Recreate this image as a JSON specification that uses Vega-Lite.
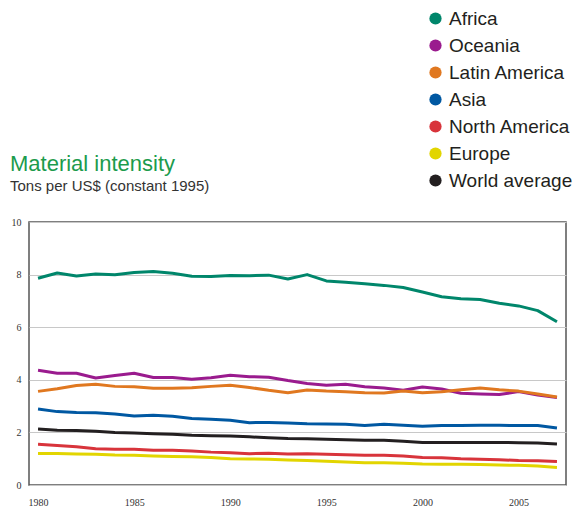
{
  "$schema": "https://vega.github.io/schema/vega-lite/v6.json",
  "width": 537,
  "height": 263,
  "autosize": {"type": "none"},
  "padding": {"left": 29, "top": 222, "right": 9, "bottom": 23},
  "background": "white",
  "title": {
    "text": "Material intensity",
    "subtitle": "Tons per US$ (constant 1995)",
    "anchor": "start",
    "frame": "group",
    "dx": -19,
    "dy": 216,
    "offset": 30,
    "font": "Liberation Sans",
    "fontSize": 22,
    "fontWeight": "normal",
    "color": "#1c9b4c",
    "subtitleFont": "Liberation Sans",
    "subtitleFontSize": 15,
    "subtitleColor": "#333333",
    "subtitlePadding": 3
  },
  "config": {
    "view": {"stroke": "#555555", "strokeWidth": 1.5},
    "axis": {"labelFont": "Liberation Sans Narrow", "labelFontSize": 10, "labelColor": "#333333", "ticks": false, "domain": false}
  },
  "data": {
    "values": [
      {"year":1980,"region":"Africa","value":7.86},{"year":1981,"region":"Africa","value":8.06},{"year":1982,"region":"Africa","value":7.95},{"year":1983,"region":"Africa","value":8.02},{"year":1984,"region":"Africa","value":7.99},{"year":1985,"region":"Africa","value":8.08},{"year":1986,"region":"Africa","value":8.12},{"year":1987,"region":"Africa","value":8.05},{"year":1988,"region":"Africa","value":7.94},{"year":1989,"region":"Africa","value":7.93},{"year":1990,"region":"Africa","value":7.97},{"year":1991,"region":"Africa","value":7.96},{"year":1992,"region":"Africa","value":7.98},{"year":1993,"region":"Africa","value":7.83},{"year":1994,"region":"Africa","value":8.0},{"year":1995,"region":"Africa","value":7.76},{"year":1996,"region":"Africa","value":7.71},{"year":1997,"region":"Africa","value":7.65},{"year":1998,"region":"Africa","value":7.59},{"year":1999,"region":"Africa","value":7.51},{"year":2000,"region":"Africa","value":7.34},{"year":2001,"region":"Africa","value":7.16},{"year":2002,"region":"Africa","value":7.08},{"year":2003,"region":"Africa","value":7.05},{"year":2004,"region":"Africa","value":6.91},{"year":2005,"region":"Africa","value":6.81},{"year":2006,"region":"Africa","value":6.63},{"year":2007,"region":"Africa","value":6.21},
      {"year":1980,"region":"Oceania","value":4.36},{"year":1981,"region":"Oceania","value":4.25},{"year":1982,"region":"Oceania","value":4.25},{"year":1983,"region":"Oceania","value":4.07},{"year":1984,"region":"Oceania","value":4.16},{"year":1985,"region":"Oceania","value":4.25},{"year":1986,"region":"Oceania","value":4.09},{"year":1987,"region":"Oceania","value":4.09},{"year":1988,"region":"Oceania","value":4.02},{"year":1989,"region":"Oceania","value":4.08},{"year":1990,"region":"Oceania","value":4.17},{"year":1991,"region":"Oceania","value":4.12},{"year":1992,"region":"Oceania","value":4.1},{"year":1993,"region":"Oceania","value":3.97},{"year":1994,"region":"Oceania","value":3.86},{"year":1995,"region":"Oceania","value":3.79},{"year":1996,"region":"Oceania","value":3.83},{"year":1997,"region":"Oceania","value":3.74},{"year":1998,"region":"Oceania","value":3.69},{"year":1999,"region":"Oceania","value":3.6},{"year":2000,"region":"Oceania","value":3.73},{"year":2001,"region":"Oceania","value":3.65},{"year":2002,"region":"Oceania","value":3.49},{"year":2003,"region":"Oceania","value":3.46},{"year":2004,"region":"Oceania","value":3.44},{"year":2005,"region":"Oceania","value":3.55},{"year":2006,"region":"Oceania","value":3.42},{"year":2007,"region":"Oceania","value":3.33},
      {"year":1980,"region":"Latin America","value":3.56},{"year":1981,"region":"Latin America","value":3.66},{"year":1982,"region":"Latin America","value":3.78},{"year":1983,"region":"Latin America","value":3.83},{"year":1984,"region":"Latin America","value":3.75},{"year":1985,"region":"Latin America","value":3.74},{"year":1986,"region":"Latin America","value":3.68},{"year":1987,"region":"Latin America","value":3.68},{"year":1988,"region":"Latin America","value":3.7},{"year":1989,"region":"Latin America","value":3.75},{"year":1990,"region":"Latin America","value":3.79},{"year":1991,"region":"Latin America","value":3.71},{"year":1992,"region":"Latin America","value":3.6},{"year":1993,"region":"Latin America","value":3.51},{"year":1994,"region":"Latin America","value":3.61},{"year":1995,"region":"Latin America","value":3.57},{"year":1996,"region":"Latin America","value":3.55},{"year":1997,"region":"Latin America","value":3.51},{"year":1998,"region":"Latin America","value":3.5},{"year":1999,"region":"Latin America","value":3.57},{"year":2000,"region":"Latin America","value":3.51},{"year":2001,"region":"Latin America","value":3.55},{"year":2002,"region":"Latin America","value":3.62},{"year":2003,"region":"Latin America","value":3.69},{"year":2004,"region":"Latin America","value":3.62},{"year":2005,"region":"Latin America","value":3.57},{"year":2006,"region":"Latin America","value":3.46},{"year":2007,"region":"Latin America","value":3.35},
      {"year":1980,"region":"Asia","value":2.89},{"year":1981,"region":"Asia","value":2.79},{"year":1982,"region":"Asia","value":2.76},{"year":1983,"region":"Asia","value":2.75},{"year":1984,"region":"Asia","value":2.7},{"year":1985,"region":"Asia","value":2.62},{"year":1986,"region":"Asia","value":2.65},{"year":1987,"region":"Asia","value":2.61},{"year":1988,"region":"Asia","value":2.53},{"year":1989,"region":"Asia","value":2.5},{"year":1990,"region":"Asia","value":2.46},{"year":1991,"region":"Asia","value":2.37},{"year":1992,"region":"Asia","value":2.38},{"year":1993,"region":"Asia","value":2.36},{"year":1994,"region":"Asia","value":2.33},{"year":1995,"region":"Asia","value":2.32},{"year":1996,"region":"Asia","value":2.31},{"year":1997,"region":"Asia","value":2.26},{"year":1998,"region":"Asia","value":2.31},{"year":1999,"region":"Asia","value":2.27},{"year":2000,"region":"Asia","value":2.23},{"year":2001,"region":"Asia","value":2.26},{"year":2002,"region":"Asia","value":2.26},{"year":2003,"region":"Asia","value":2.27},{"year":2004,"region":"Asia","value":2.27},{"year":2005,"region":"Asia","value":2.26},{"year":2006,"region":"Asia","value":2.26},{"year":2007,"region":"Asia","value":2.17},
      {"year":1980,"region":"North America","value":1.55},{"year":1981,"region":"North America","value":1.5},{"year":1982,"region":"North America","value":1.45},{"year":1983,"region":"North America","value":1.38},{"year":1984,"region":"North America","value":1.36},{"year":1985,"region":"North America","value":1.36},{"year":1986,"region":"North America","value":1.32},{"year":1987,"region":"North America","value":1.32},{"year":1988,"region":"North America","value":1.29},{"year":1989,"region":"North America","value":1.25},{"year":1990,"region":"North America","value":1.23},{"year":1991,"region":"North America","value":1.19},{"year":1992,"region":"North America","value":1.21},{"year":1993,"region":"North America","value":1.18},{"year":1994,"region":"North America","value":1.19},{"year":1995,"region":"North America","value":1.17},{"year":1996,"region":"North America","value":1.15},{"year":1997,"region":"North America","value":1.13},{"year":1998,"region":"North America","value":1.13},{"year":1999,"region":"North America","value":1.1},{"year":2000,"region":"North America","value":1.05},{"year":2001,"region":"North America","value":1.04},{"year":2002,"region":"North America","value":1.0},{"year":2003,"region":"North America","value":0.98},{"year":2004,"region":"North America","value":0.96},{"year":2005,"region":"North America","value":0.93},{"year":2006,"region":"North America","value":0.92},{"year":2007,"region":"North America","value":0.89},
      {"year":1980,"region":"Europe","value":1.2},{"year":1981,"region":"Europe","value":1.2},{"year":1982,"region":"Europe","value":1.18},{"year":1983,"region":"Europe","value":1.17},{"year":1984,"region":"Europe","value":1.14},{"year":1985,"region":"Europe","value":1.13},{"year":1986,"region":"Europe","value":1.1},{"year":1987,"region":"Europe","value":1.08},{"year":1988,"region":"Europe","value":1.07},{"year":1989,"region":"Europe","value":1.05},{"year":1990,"region":"Europe","value":1.0},{"year":1991,"region":"Europe","value":0.99},{"year":1992,"region":"Europe","value":0.98},{"year":1993,"region":"Europe","value":0.95},{"year":1994,"region":"Europe","value":0.93},{"year":1995,"region":"Europe","value":0.9},{"year":1996,"region":"Europe","value":0.87},{"year":1997,"region":"Europe","value":0.85},{"year":1998,"region":"Europe","value":0.85},{"year":1999,"region":"Europe","value":0.83},{"year":2000,"region":"Europe","value":0.8},{"year":2001,"region":"Europe","value":0.79},{"year":2002,"region":"Europe","value":0.79},{"year":2003,"region":"Europe","value":0.78},{"year":2004,"region":"Europe","value":0.76},{"year":2005,"region":"Europe","value":0.75},{"year":2006,"region":"Europe","value":0.72},{"year":2007,"region":"Europe","value":0.67},
      {"year":1980,"region":"World average","value":2.13},{"year":1981,"region":"World average","value":2.08},{"year":1982,"region":"World average","value":2.07},{"year":1983,"region":"World average","value":2.04},{"year":1984,"region":"World average","value":2.0},{"year":1985,"region":"World average","value":1.98},{"year":1986,"region":"World average","value":1.95},{"year":1987,"region":"World average","value":1.93},{"year":1988,"region":"World average","value":1.89},{"year":1989,"region":"World average","value":1.87},{"year":1990,"region":"World average","value":1.86},{"year":1991,"region":"World average","value":1.83},{"year":1992,"region":"World average","value":1.8},{"year":1993,"region":"World average","value":1.77},{"year":1994,"region":"World average","value":1.76},{"year":1995,"region":"World average","value":1.74},{"year":1996,"region":"World average","value":1.72},{"year":1997,"region":"World average","value":1.7},{"year":1998,"region":"World average","value":1.7},{"year":1999,"region":"World average","value":1.66},{"year":2000,"region":"World average","value":1.62},{"year":2001,"region":"World average","value":1.62},{"year":2002,"region":"World average","value":1.62},{"year":2003,"region":"World average","value":1.62},{"year":2004,"region":"World average","value":1.62},{"year":2005,"region":"World average","value":1.61},{"year":2006,"region":"World average","value":1.6},{"year":2007,"region":"World average","value":1.56}
    ]
  },
  "mark": {"type": "line", "strokeWidth": 3, "strokeJoin": "round"},
  "encoding": {
    "x": {
      "field": "year",
      "type": "quantitative",
      "scale": {"domain": [1979.53, 2007.47], "nice": false, "zero": false},
      "axis": {"values": [1980, 1985, 1990, 1995, 2000, 2005], "format": "d", "grid": false, "title": null, "labelPadding": 12, "labelFlush": false}
    },
    "y": {
      "field": "value",
      "type": "quantitative",
      "scale": {"domain": [0, 10], "nice": false},
      "axis": {"values": [0, 2, 4, 6, 8, 10], "title": null, "grid": true, "gridColor": "#c8c8c8", "gridWidth": 1.2, "labelPadding": 8}
    },
    "color": {
      "field": "region",
      "type": "nominal",
      "scale": {
        "domain": ["Africa", "Oceania", "Latin America", "Asia", "North America", "Europe", "World average"],
        "range": ["#00866b", "#9a1b8e", "#e07820", "#0058a2", "#d8343b", "#e2d500", "#231f20"]
      },
      "legend": {
        "title": null,
        "orient": "none",
        "legendX": 397,
        "legendY": -213,
        "symbolType": "circle",
        "symbolSize": 150,
        "symbolStrokeWidth": 0,
        "symbolOpacity": 1,
        "labelFont": "Liberation Sans",
        "labelFontSize": 19,
        "labelColor": "#231f20",
        "labelOffset": 4,
        "rowPadding": 7,
        "labelLimit": 300,
        "encode": {
          "symbols": {"update": {"fill": {"scale": "color", "field": "value"}, "fillOpacity": {"value": 1}}}
        }
      }
    }
  }
}
